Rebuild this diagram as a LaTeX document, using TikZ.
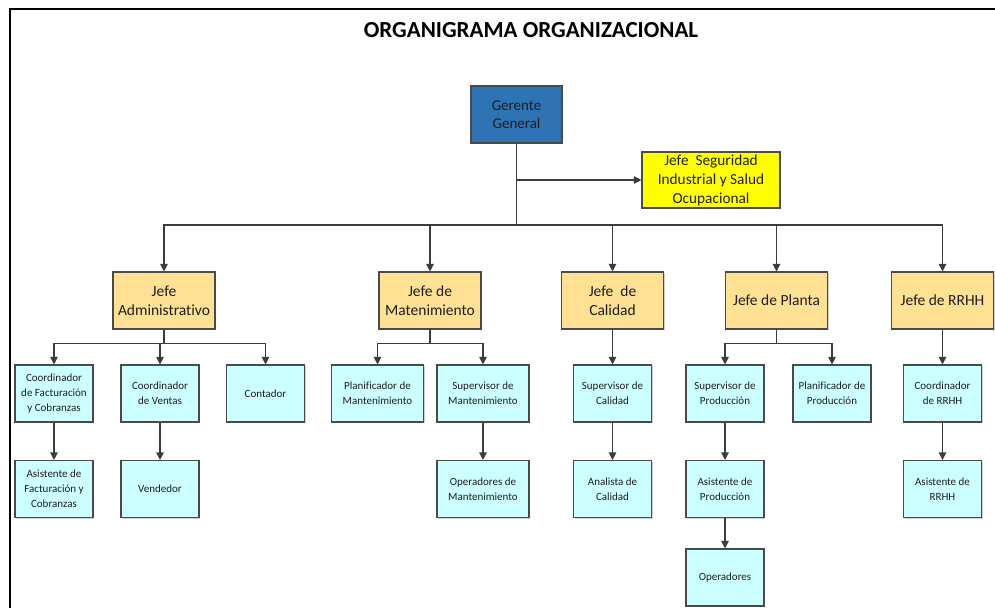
\documentclass[tikz,border=0pt]{standalone}
\usepackage{fontspec}
\setmainfont{Carlito}[Ligatures=NoCommon]
\usetikzlibrary{arrows.meta,shadows}

\definecolor{linegray}{HTML}{3C3C3C}
\definecolor{boxborder}{HTML}{4A4A4A}
\definecolor{gerblue}{HTML}{2E73B4}
\definecolor{jefeorange}{HTML}{FFE194}
\definecolor{staffcyan}{HTML}{CCFFFF}
\definecolor{safetyyellow}{HTML}{FFFF00}
\definecolor{textdark}{HTML}{1E1E1E}

\tikzset{
  basebox/.style={draw=boxborder, line width=1.1pt, rectangle, align=center,
    inner sep=1pt, text=textdark,
    drop shadow={shadow xshift=1.2pt, shadow yshift=-1.2pt, fill=black, opacity=0.18}},
  topbox/.style={basebox, fill=gerblue, minimum width=91pt, minimum height=57pt,
    font=\fontsize{15}{18.5}\selectfont},
  safetybox/.style={basebox, fill=safetyyellow, minimum width=138pt, minimum height=56pt,
    font=\fontsize{15.3}{19}\selectfont},
  jefebox/.style={basebox, fill=jefeorange, minimum width=102pt, minimum height=57pt,
    font=\fontsize{15.5}{19}\selectfont},
  staffbox/.style={basebox, fill=staffcyan, minimum width=78pt, minimum height=57pt,
    font=\fontsize{11}{15}\selectfont},
  widebox/.style={staffbox, minimum width=92pt},
  link/.style={draw=linegray, line width=1.1pt,
    -{Triangle[length=7.5pt,width=7.5pt]}},
  frameline/.style={draw=black, line width=2.2pt}
}

\begin{document}
\begin{tikzpicture}[x=1pt,y=-1pt]
  \useasboundingbox (0,0) rectangle (995,608);
  \fill[white] (0,0) rectangle (995,608);

  % page frame (top and left edges)
  \draw[frameline] (10,608) -- (10,9) -- (995,9);

  % title
  \node[font=\fontsize{23}{27}\selectfont\bfseries, text=black] (title) at (531,30)
    {ORGANIGRAMA ORGANIZACIONAL};

  % top level
  \node[topbox] (ger) at (516.5,114.5) {Gerente\\General};
  \node[safetybox] (seg) at (711,180) {Jefe\ \ Seguridad\\Industrial y Salud\\Ocupacional};

  % department heads
  \node[jefebox] (adm) at (164,300.5)   {Jefe\\Administrativo};
  \node[jefebox] (man) at (430,300.5)   {Jefe de\\Matenimiento};
  \node[jefebox] (cal) at (612.5,300.5) {Jefe\ \ de\\Calidad};
  \node[jefebox] (pla) at (776.5,300.5) {Jefe de Planta};
  \node[jefebox] (rrh) at (942.5,300.5) {Jefe de RRHH};

  % third level
  \node[staffbox] (cfc) at (54,393.5)    {Coordinador\\de Facturación\\y Cobranzas};
  \node[staffbox] (cve) at (160,393.5)   {Coordinador\\de Ventas};
  \node[staffbox] (con) at (265.5,393.5) {Contador};
  \node[widebox]  (plm) at (377.5,393.5) {Planificador de\\Mantenimiento};
  \node[widebox]  (spm) at (483,393.5)   {Supervisor de\\Mantenimiento};
  \node[staffbox] (spc) at (612.5,393.5) {Supervisor de\\Calidad};
  \node[staffbox] (spp) at (725,393.5)   {Supervisor de\\Producción};
  \node[staffbox] (plp) at (832,393.5)   {Planificador de\\Producción};
  \node[staffbox] (crh) at (942.5,393.5) {Coordinador\\de RRHH};

  % fourth level
  \node[staffbox] (afc) at (54,489)     {Asistente de\\Facturación y\\Cobranzas};
  \node[staffbox] (ven) at (160,489)    {Vendedor};
  \node[widebox]  (opm) at (483,489)    {Operadores de\\Mantenimiento};
  \node[staffbox] (anc) at (612.5,489)  {Analista de\\Calidad};
  \node[staffbox] (asp) at (725,489)    {Asistente de\\Producción};
  \node[staffbox] (arh) at (942.5,489)  {Asistente de\\RRHH};

  % fifth level
  \node[staffbox] (ope) at (725,577.5)  {Operadores};

  % main distribution bus
  \coordinate (bus) at (516.5,225);
  \draw[link] (ger.south |- seg.west) -- (seg.west);
  \foreach \n in {adm,man,cal,pla,rrh}
    \draw[link] (ger.south) -- (bus) -| (\n);

  % department branches
  \foreach \n in {cfc,cve,con}
    \draw[link] (adm.south) -- ++(0,14) -| (\n);
  \foreach \n in {plm,spm}
    \draw[link] (man.south) -- ++(0,14) -| (\n);
  \foreach \n in {spp,plp}
    \draw[link] (pla.south) -- ++(0,14) -| (\n);
  \draw[link] (cal) -- (spc);
  \draw[link] (rrh) -- (crh);

  % chains below
  \draw[link] (cfc) -- (afc);
  \draw[link] (cve) -- (ven);
  \draw[link] (spm) -- (opm);
  \draw[link] (spc) -- (anc);
  \draw[link] (spp) -- (asp);
  \draw[link] (asp) -- (ope);
  \draw[link] (crh) -- (arh);
\end{tikzpicture}
\end{document}
